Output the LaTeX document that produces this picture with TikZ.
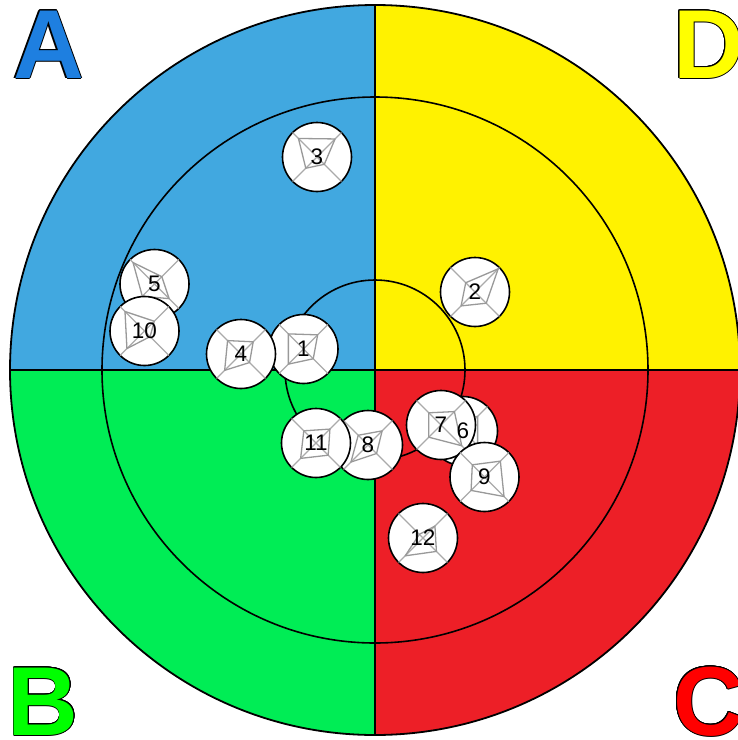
\documentclass[tikz,border=0pt]{standalone}
\usepackage{fontspec}
\setmainfont{Liberation Sans}
\usetikzlibrary{calc}
\definecolor{qa}{HTML}{41A8E0}
\definecolor{qd}{HTML}{FFF200}
\definecolor{qb}{HTML}{00ED55}
\definecolor{qc}{HTML}{ED1F27}
\definecolor{la}{HTML}{1E7FE0}
\definecolor{lb}{HTML}{00FF00}
\definecolor{lc}{HTML}{FF0000}
\definecolor{ld}{HTML}{FFFF00}
\definecolor{spk}{HTML}{AAAAAA}
\tikzset{
  mkcircle/.style={circle,draw=black,fill=white,line width=1.6pt,minimum size=69pt,inner sep=0pt,outer sep=0pt},
  spoke/.style={draw=spk,line width=1.1pt},
  radar/.style={draw=spk!90!black,line width=1.3pt,line join=round},
  mklabel/.style={inner sep=0pt,font=\fontsize{22.5}{22.5}\selectfont},
  ring/.style={draw=black,line width=1.8pt},
  bigletter/.style={anchor=base west,inner sep=0pt,outer sep=0pt,font=\bfseries\fontsize{98}{98}\selectfont}
}
\newcommand\mkr[7]{%
  \node[mkcircle] (m#1) at (#2,#3) {};
  \draw[spoke] (m#1.45) -- (m#1.225) (m#1.135) -- (m#1.315);
  \draw[radar] ($(m#1.center)!#4!(m#1.45)$) -- ($(m#1.center)!#5!(m#1.135)$) -- ($(m#1.center)!#6!(m#1.225)$) -- ($(m#1.center)!#7!(m#1.315)$) -- cycle;
}
\newcommand\outl[4]{%
  \foreach \dx/\dy in {1/0,-1/0,0/1,0/-1,0.71/0.71,-0.71/0.71,0.71/-0.71,-0.71/-0.71,0.92/0.38,-0.92/0.38,0.92/-0.38,-0.92/-0.38,0.38/0.92,-0.38/0.92,0.38/-0.92,-0.38/-0.92}
    \node[bigletter,text=black] at ($(#2,#3)+(\dx,\dy)$) {#1};
  \node[bigletter,text=#4] (let#1) at (#2,#3) {#1};
}
\begin{document}
\begin{tikzpicture}[x=1pt,y=-1pt]
\useasboundingbox (0,0) rectangle (738,740);
\clip (0,0) rectangle (738,740);
\fill[white] (0,0) rectangle (738,740);
\begin{scope}
  \clip (375,370) circle[radius=365];
  \fill[qa] (0,0) rectangle (375,370);
  \fill[qd] (375,0) rectangle (760,370);
  \fill[qb] (0,370) rectangle (375,760);
  \fill[qc] (375,370) rectangle (760,760);
\end{scope}
\draw[ring] (375,370) circle[radius=365];
\draw[ring,line width=1.6pt] (375,370) circle[radius=273];
\draw[ring,line width=1.6pt] (375,370) circle[radius=90];
\draw[ring,line width=2.2pt] (375,5) -- (375,735);
\draw[ring,line width=2.2pt] (10,370) -- (740,370);
% markers: label, x, y, NE, NW, SW, SE
\mkr{1}{303.5}{349}{0.58}{0.62}{0.62}{0.40}
\mkr{2}{475}{292}{0.95}{0.38}{0.57}{0.46}
\mkr{3}{317}{157}{0.74}{0.76}{0.46}{0.30}
\mkr{4}{241}{354}{0.50}{0.55}{0.67}{0.35}
\mkr{5}{154.5}{284}{0.30}{0.88}{0.50}{0.60}
\mkr{6}{463}{431}{0.60}{0.50}{0.50}{0.60}
\mkr{7}{441}{425}{0.55}{0.50}{0.50}{0.85}
\mkr{8}{368}{445}{0.58}{0.40}{0.70}{0.35}
\mkr{9}{484.5}{477}{0.65}{0.50}{0.55}{0.80}
\mkr{10}{144.5}{331}{0.40}{0.80}{0.72}{0.23}
\mkr{11}{316}{443}{0.57}{0.50}{0.63}{0.50}
\mkr{12}{423}{538}{0.49}{0.15}{0.73}{0.55}
\foreach \k in {1,...,12} \node[mklabel] (lab\k) at (m\k) {\k};
\outl{A}{13}{78}{la}
\outl{B}{8}{735}{lb}
\outl{C}{673}{735}{lc}
\outl{D}{673}{78}{ld}
\end{tikzpicture}
\end{document}
